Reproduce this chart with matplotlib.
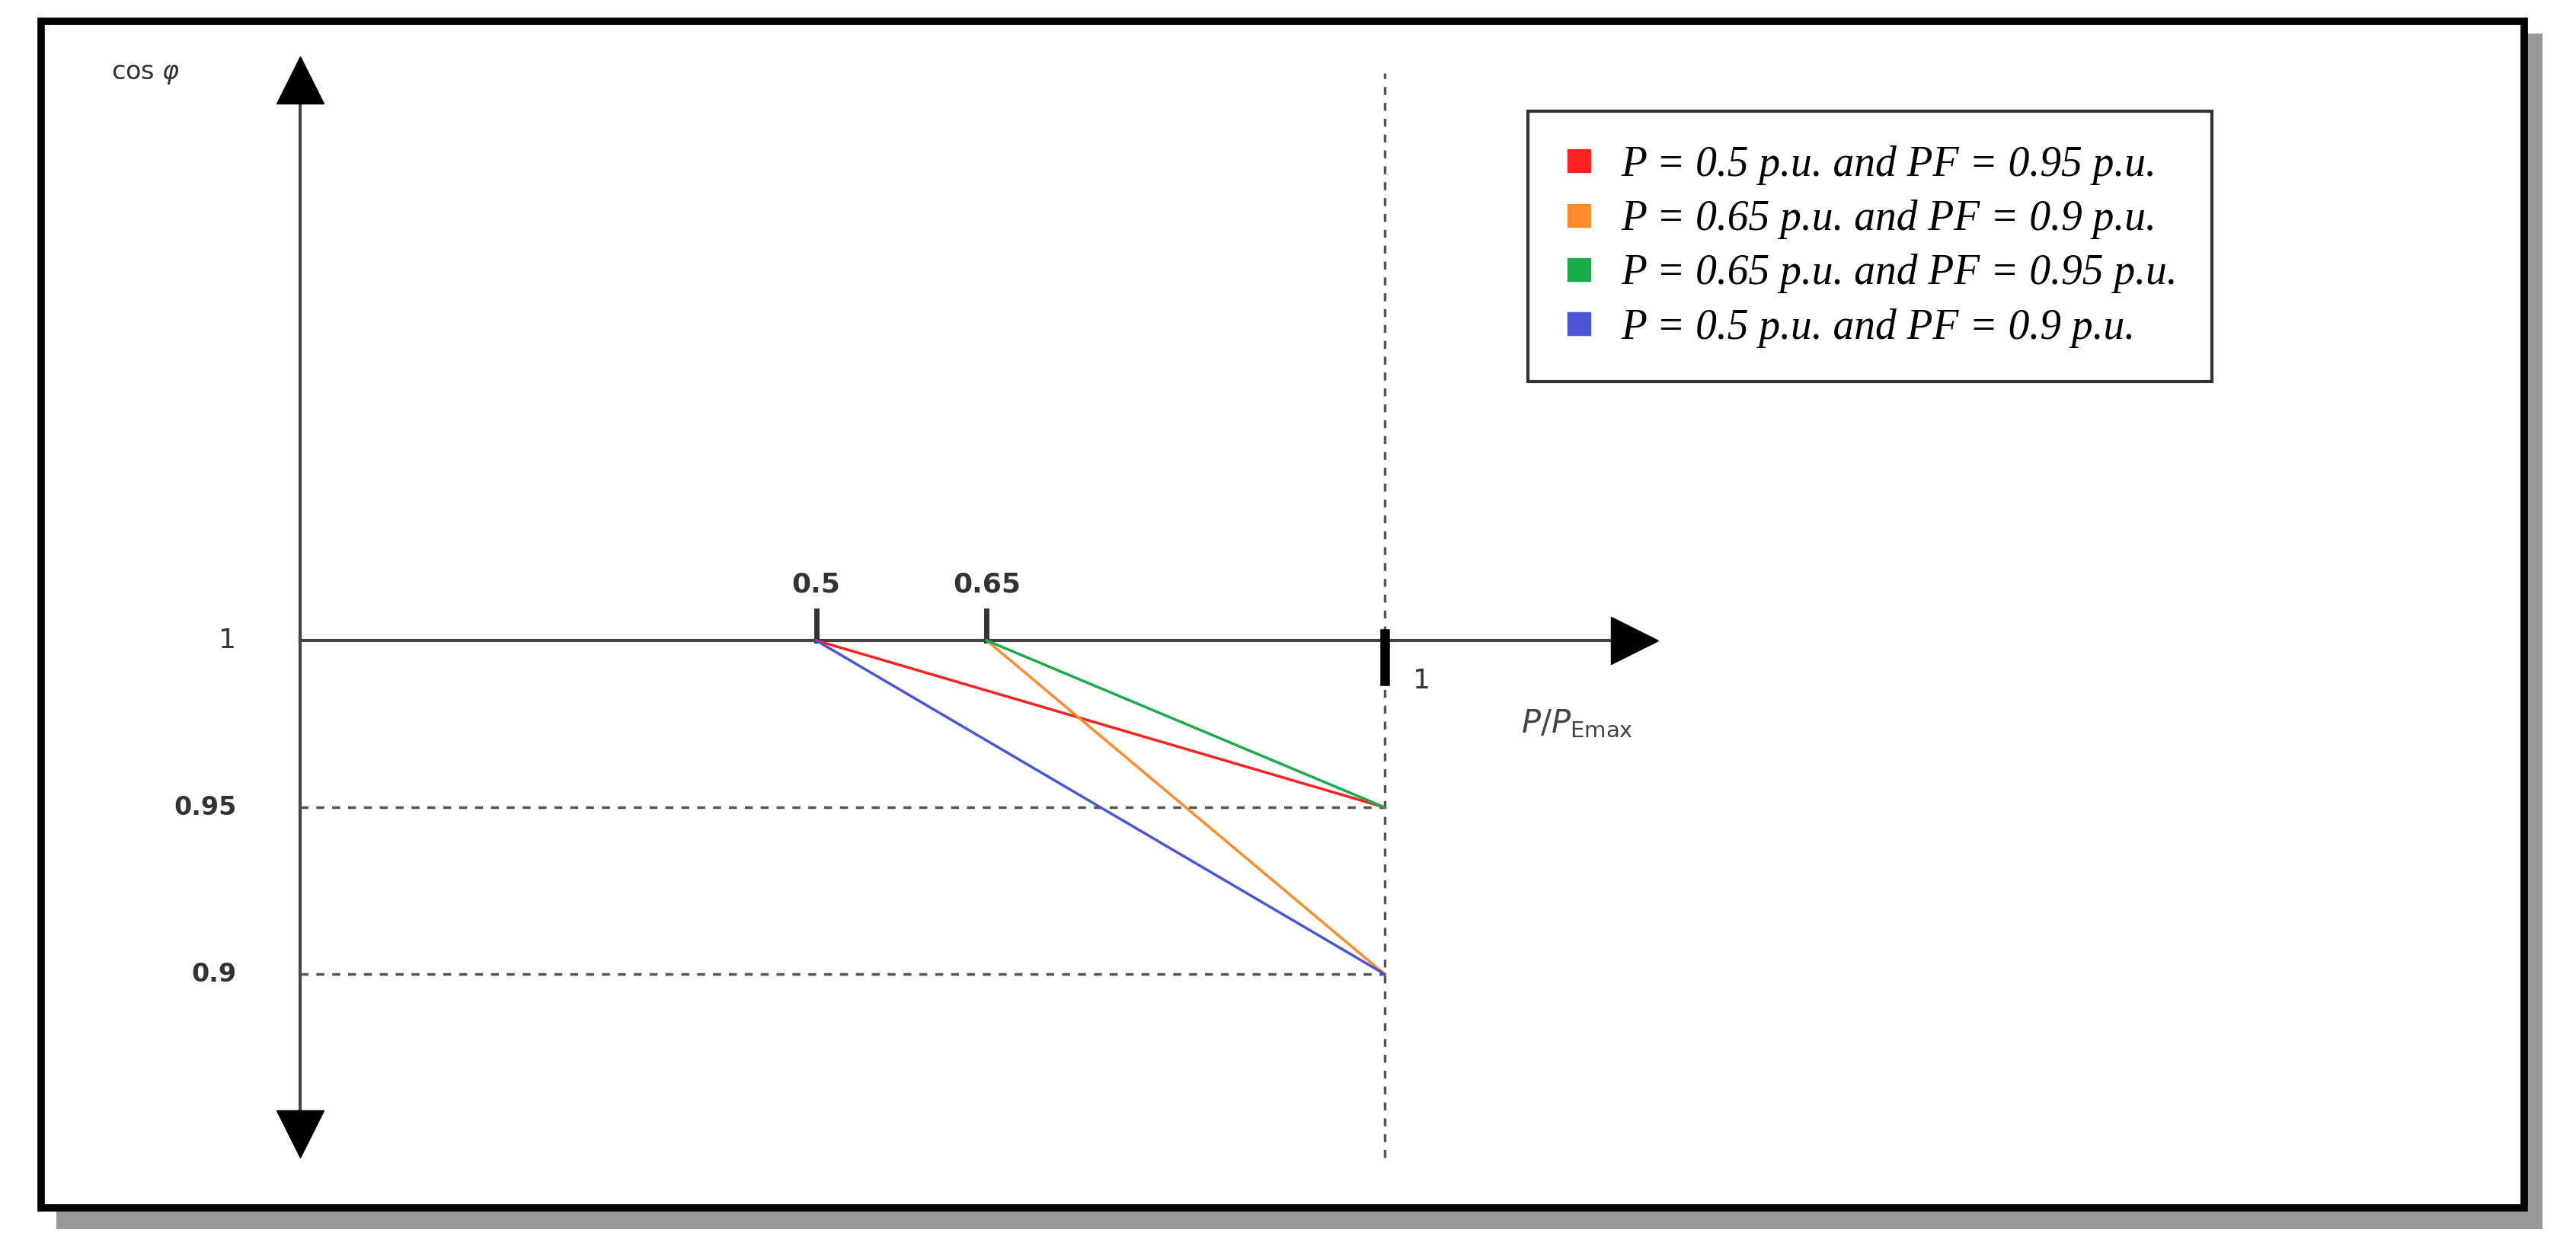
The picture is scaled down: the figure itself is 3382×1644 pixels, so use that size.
import matplotlib
matplotlib.use("Agg")
import matplotlib.pyplot as plt
from matplotlib.patches import Rectangle

labels = ["P = 0.5 p.u. and PF = 0.95 p.u.", "P = 0.65 p.u. and PF = 0.9 p.u.",
          "P = 0.65 p.u. and PF = 0.95 p.u.", "P = 0.5 p.u. and PF = 0.9 p.u."]
colors = ["#ff2020", "#ff8c2a", "#1aab4a", "#4a55d8"]
p_start = [0.5, 0.65, 0.65, 0.5]
pf_end = [0.95, 0.9, 0.95, 0.9]
x_ticks = [0.5, 0.65]
y_levels = [0.95, 0.9]

fig = plt.figure(figsize=(33.82, 16.44), dpi=100)
ax = fig.add_axes([0, 0, 1, 1])
ax.set_xlim(-0.218, 2.048)
ax.set_ylim(0.8167, 1.192)
ax.axis("off")
# frame with shadow
ax.add_patch(Rectangle((0.022, 0.018), 0.965, 0.955, transform=fig.transFigure,
                       facecolor="#555555", edgecolor="none", alpha=0.6, zorder=-10, clip_on=False))
ax.add_patch(Rectangle((0.016, 0.035), 0.964, 0.948, transform=fig.transFigure,
                       facecolor="white", edgecolor="black", lw=7, zorder=-9, clip_on=False))

x0 = (183 - 151) / 692
lw_ax = 3
# axes
ax.plot([x0, 1.22], [1, 1], color="#444444", lw=lw_ax)
ax.plot([1.22], [1], marker=">", color="black", ms=45, clip_on=False)
ax.plot([x0, x0], [0.852, 1.168], color="#444444", lw=lw_ax)
ax.plot([x0], [1.168], marker="^", color="black", ms=45)
ax.plot([x0], [0.852], marker="v", color="black", ms=45)
# dashed guides
ax.plot([1, 1], [0.845, 1.17], color="#555555", lw=2.5, ls=(0, (3, 3)))
for y in y_levels:
    ax.plot([x0, 1], [y, y], color="#555555", lw=2.5, ls=(0, (3, 3)))
# ticks
for x in x_ticks:
    ax.plot([x, x], [1, 1.009], color="#333333", lw=5)
    ax.text(x, 1.013, str(x), ha="center", va="bottom", fontsize=26, color="#333333", fontweight="bold")
ax.plot([1, 1], [0.988, 1.002], color="black", lw=9)
ax.text(1.025, 0.988, "1", ha="left", va="center", fontsize=26, color="#333333")
ax.text(-0.01, 1, "1", ha="right", va="center", fontsize=26, color="#333333")
for y in y_levels:
    ax.text(-0.01, y, str(y), ha="right", va="center", fontsize=24, color="#333333", fontweight="bold")
ax.text(-0.12, 1.17, "cos $\\varphi$", fontsize=24, color="#333333", va="center")
ax.text(1.12, 0.975, "$P/P_{\\mathrm{Emax}}$", fontsize=30, color="#444444", va="center")

for s, e, c, l in zip(p_start, pf_end, colors, labels):
    ax.plot([s, 1], [1, e], color=c, lw=2.5, label=l)

handles = [plt.Line2D([], [], ls="none", marker="s", ms=22, color=c) for c in colors]
leg = ax.legend(handles, labels, loc="upper left", bbox_to_anchor=(0.585, 0.928),
                prop={"family": "Liberation Serif", "style": "italic", "size": 40},
                frameon=True, fancybox=False, edgecolor="black", handlelength=0.8,
                handletextpad=0.6, labelspacing=0.35, borderpad=0.8)
leg.get_frame().set_linewidth(3)
fig.savefig("out.png", dpi=100)
